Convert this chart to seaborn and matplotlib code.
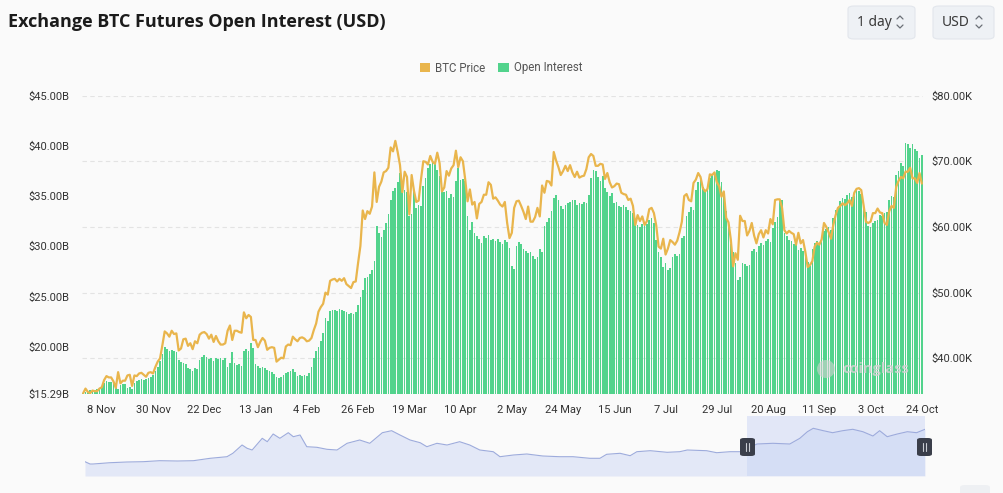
import numpy as np
import pandas as pd
import matplotlib
matplotlib.use("Agg")
import matplotlib.pyplot as plt
import seaborn as sns
from matplotlib.patches import FancyBboxPatch, Patch, Ellipse
from matplotlib.lines import Line2D

# ---------------- data (daily, 31 Oct 2023 .. 25 Oct 2024) ----------------
oi_oct_nov = [15.45, 15.55, 15.5, 15.7, 15.6, 15.75, 15.8, 15.9, 16.1, 16.4, 16.6, 16.5, 16.5, 16.4,
              16.0, 15.8, 16.2, 16.3, 16.3, 15.9, 16.0, 15.8, 16.4, 16.6, 16.7, 16.8, 16.7, 16.8,
              16.9, 17.0, 17.2]
oi_dec = [17.6, 18.0, 18.6, 19.3, 20.0, 19.8, 19.6, 19.7, 19.6, 19.5, 18.7, 18.5, 18.4, 18.3, 17.9,
          17.8, 17.6, 17.9, 17.8, 18.7, 19.0, 19.2, 19.0, 18.8, 18.9, 18.6, 18.9, 18.8, 18.9, 18.7, 18.9]
oi_jan = [18.0, 18.4, 19.5, 18.4, 18.2, 18.3, 18.1, 19.6, 19.8, 19.6, 20.4, 19.9, 18.3, 18.1, 17.9,
          18.0, 17.9, 17.7, 17.6, 17.5, 17.3, 17.0, 16.9, 17.0, 17.2, 17.4, 17.5, 17.6, 17.8, 17.5, 17.1]
oi_feb = [17.2, 17.1, 17.2, 17.1, 17.4, 18.0, 18.9, 19.6, 20.0, 20.6, 21.4, 22.9, 22.6, 23.6, 23.7,
          23.7, 23.6, 23.8, 23.7, 23.6, 23.5, 23.3, 23.4, 23.3, 23.5, 24.2, 25.0, 25.7, 26.9]
oi_mar = [27.0, 27.3, 27.6, 28.5, 32.0, 31.3, 30.9, 31.6, 32.3, 33.2, 34.6, 35.5, 35.8, 36.4, 37.3,
          36.0, 35.6, 35.4, 33.0, 33.2, 35.6, 33.8, 34.1, 34.0, 36.0, 36.8, 37.8, 38.2, 38.5, 38.3, 37.6]
oi_apr = [37.0, 35.6, 35.4, 35.5, 34.8, 35.2, 34.9, 36.5, 37.8, 36.6, 36.7, 36.5, 33.0, 31.6, 32.4,
          31.3, 31.0, 30.7, 30.3, 31.0, 30.8, 31.1, 30.6, 30.7, 30.5, 30.7, 30.4, 30.2, 30.6, 30.4]
oi_may = [29.8, 28.0, 27.7, 30.0, 30.4, 30.2, 29.7, 29.5, 29.3, 29.4, 29.0, 28.7, 28.9, 29.7, 29.4,
          32.0, 32.4, 32.8, 33.5, 34.8, 35.1, 34.6, 34.0, 33.7, 34.1, 34.3, 34.4, 34.6, 34.6, 34.1, 34.3]
oi_jun = [34.2, 34.4, 34.3, 35.1, 36.8, 37.6, 37.5, 36.9, 36.5, 37.0, 35.8, 35.4, 35.0, 35.3, 34.3,
          34.4, 34.0, 33.9, 34.1, 33.9, 33.6, 33.5, 33.3, 32.3, 32.1, 31.9, 32.2, 32.0, 32.2, 32.6]
oi_jul = [32.8, 32.3, 30.6, 29.4, 28.9, 27.9, 28.3, 27.6, 27.8, 28.9, 29.2, 29.0, 29.2, 30.8, 31.0,
          33.0, 33.4, 33.9, 33.6, 35.6, 36.4, 36.6, 35.9, 35.6, 35.8, 36.8, 37.1, 37.3, 37.6, 37.5, 36.4]
oi_aug = [35.4, 33.5, 32.3, 30.2, 29.4, 28.3, 26.7, 27.0, 28.3, 28.2, 28.0, 28.1, 29.5, 29.7, 29.4,
          30.0, 30.3, 30.1, 30.5, 30.7, 30.4, 31.8, 32.4, 32.9, 34.5, 34.6, 31.3, 31.0, 30.6, 30.5, 30.2]
oi_sep = [30.3, 29.6, 29.8, 29.5, 29.2, 28.4, 28.0, 29.7, 30.3, 30.5, 30.3, 30.8, 31.5, 31.7, 31.9,
          31.6, 32.8, 33.6, 33.8, 34.5, 34.8, 34.7, 35.1, 35.3, 34.9, 35.0, 35.6, 35.5, 35.2, 34.0]
oi_oct = [33.4, 32.0, 31.9, 32.3, 32.5, 32.6, 33.1, 33.0, 33.3, 33.4, 34.6, 35.0, 34.9, 37.1, 37.5,
          38.3, 38.0, 40.3, 40.2, 39.8, 40.2, 39.7, 39.5, 38.8, 39.1]

px_oct_nov = [34.7, 35.4, 34.9, 34.7, 35.1, 35.0, 35.0, 35.4, 35.6, 36.7, 37.3, 37.1, 37.1, 36.5,
              35.5, 37.9, 36.2, 36.6, 36.6, 37.4, 37.5, 35.8, 37.4, 37.3, 37.7, 37.8, 37.5, 37.2,
              37.8, 37.9, 37.7]
px_dec = [38.7, 39.5, 40.0, 42.0, 44.1, 43.8, 43.3, 44.2, 43.7, 43.8, 41.2, 41.5, 42.9, 43.0, 41.9,
          42.3, 41.4, 42.6, 42.3, 43.6, 43.9, 44.0, 43.7, 43.0, 43.6, 42.5, 43.4, 42.6, 42.1, 42.1, 42.3]
px_jan = [44.2, 45.0, 42.8, 44.2, 44.2, 44.0, 43.9, 47.0, 46.1, 46.6, 46.3, 42.8, 42.8, 41.7, 42.5,
          43.1, 42.7, 41.3, 41.6, 41.7, 41.6, 39.5, 39.8, 40.1, 40.0, 41.8, 42.1, 42.0, 43.3, 42.9, 42.6]
px_feb = [43.1, 43.2, 43.0, 42.6, 42.7, 43.1, 44.3, 45.3, 47.1, 47.8, 48.3, 50.0, 49.7, 51.8, 52.0,
          52.1, 51.7, 52.1, 51.8, 52.2, 51.3, 51.0, 50.7, 51.6, 51.7, 54.5, 57.1, 62.5, 61.2]
px_mar = [62.4, 62.0, 63.1, 68.3, 63.8, 66.1, 66.9, 68.3, 68.5, 69.0, 72.1, 71.5, 73.1, 71.4, 69.4,
          65.3, 68.4, 67.6, 61.9, 67.9, 65.5, 63.8, 64.0, 67.2, 70.0, 69.9, 69.5, 70.8, 69.9, 69.6, 71.3]
px_apr = [69.7, 65.4, 66.0, 68.5, 67.8, 68.9, 69.4, 71.6, 69.1, 70.6, 70.0, 67.2, 63.9, 65.7, 63.4,
          63.8, 61.3, 63.5, 63.8, 64.9, 64.9, 66.8, 66.4, 64.3, 64.5, 64.0, 63.4, 63.1, 63.8, 60.6]
px_may = [58.3, 59.1, 62.9, 63.9, 64.0, 63.2, 62.3, 61.2, 63.1, 60.8, 60.8, 61.5, 62.9, 61.6, 66.3,
          65.2, 67.0, 66.9, 66.3, 71.4, 70.1, 69.1, 67.9, 68.5, 69.3, 68.5, 69.4, 68.3, 67.6, 68.4, 67.5]
px_jun = [67.7, 67.8, 68.8, 70.6, 71.1, 70.8, 69.3, 69.3, 69.6, 69.5, 67.3, 68.2, 66.8, 66.0, 66.2,
          66.6, 66.5, 65.2, 65.0, 64.9, 64.1, 64.3, 63.2, 60.3, 61.8, 60.9, 61.6, 60.3, 60.9, 62.7]
px_jul = [62.9, 62.1, 60.2, 57.0, 56.7, 58.2, 55.8, 56.7, 58.0, 57.7, 57.3, 57.9, 59.2, 60.8, 64.7,
          65.0, 64.1, 63.9, 66.7, 67.2, 68.2, 67.6, 65.9, 65.4, 65.8, 68.0, 67.9, 68.3, 66.8, 66.2, 64.6]
px_aug = [65.4, 61.4, 60.7, 58.1, 54.0, 56.0, 55.0, 61.7, 60.9, 60.9, 58.7, 59.4, 60.6, 58.7, 57.5,
          58.9, 59.5, 58.4, 59.5, 59.0, 61.2, 60.4, 64.1, 64.2, 64.2, 62.9, 59.5, 59.0, 59.4, 59.1, 58.9]
px_sep = [57.3, 59.1, 57.5, 58.0, 56.2, 53.9, 54.2, 54.8, 57.0, 57.6, 57.3, 58.1, 60.6, 60.0, 59.2,
          58.2, 60.3, 61.8, 62.9, 63.2, 63.6, 63.3, 63.6, 64.1, 63.2, 65.2, 65.8, 65.9, 65.6, 63.3]
px_oct = [60.8, 60.6, 60.8, 62.1, 62.1, 62.8, 62.2, 62.1, 60.6, 60.3, 62.4, 63.2, 62.9, 66.1, 67.0,
          67.6, 67.4, 68.4, 68.4, 69.0, 67.4, 67.4, 66.7, 68.2, 66.6]

open_interest_b = (oi_oct_nov + oi_dec + oi_jan + oi_feb + oi_mar + oi_apr + oi_may + oi_jun
                   + oi_jul + oi_aug + oi_sep + oi_oct)
btc_price_k = (px_oct_nov + px_dec + px_jan + px_feb + px_mar + px_apr + px_may + px_jun
               + px_jul + px_aug + px_sep + px_oct)

x_tick_labels = ["8 Nov", "30 Nov", "22 Dec", "13 Jan", "4 Feb", "26 Feb", "19 Mar", "10 Apr",
                 "2 May", "24 May", "15 Jun", "7 Jul", "29 Jul", "20 Aug", "11 Sep", "3 Oct", "24 Oct"]
first_label_day = 8
label_step = 22

left_ticks = [15.29, 20, 25, 30, 35, 40, 45]
left_tick_labels = ["$15.29B", "$20.00B", "$25.00B", "$30.00B", "$35.00B", "$40.00B", "$45.00B"]
right_ticks = [40, 50, 60, 70, 80]
right_tick_labels = ["$40.00K", "$50.00K", "$60.00K", "$70.00K", "$80.00K"]

# navigator (overview) series: relative position 0..1, level in px of a 60px strip
nav_t = [0.0, 0.006, 0.0095, 0.030, 0.050, 0.069, 0.089, 0.110, 0.129, 0.149, 0.169, 0.176, 0.187,
         0.193, 0.199, 0.211, 0.217, 0.224, 0.232, 0.242, 0.248, 0.256, 0.264, 0.276, 0.288, 0.300,
         0.312, 0.327, 0.339, 0.354, 0.365, 0.375, 0.387, 0.399, 0.407, 0.419, 0.431, 0.446, 0.458,
         0.470, 0.486, 0.494, 0.510, 0.526, 0.545, 0.565, 0.581, 0.601, 0.613, 0.621, 0.637, 0.649,
         0.657, 0.673, 0.693, 0.708, 0.717, 0.740, 0.752, 0.768, 0.780, 0.800, 0.819, 0.839, 0.851,
         0.860, 0.867, 0.879, 0.890, 0.902, 0.914, 0.926, 0.938, 0.946, 0.955, 0.967, 0.979, 0.990, 1.0]
nav_level = [14.3, 12.0, 12.0, 13.3, 14.0, 14.3, 15.3, 15.0, 15.3, 17.7, 19.3, 22.7, 31.0,
             27.7, 26.0, 37.7, 34.3, 42.0, 37.7, 43.3, 39.3, 41.0, 29.3, 28.7, 26.7, 26.0,
             32.7, 36.0, 32.7, 43.3, 45.3, 41.0, 36.0, 33.3, 29.3, 32.7, 31.0, 34.3, 31.0,
             26.0, 24.3, 19.3, 21.0, 22.0, 20.0, 19.3, 19.3, 17.7, 17.7, 21.7, 22.7, 20.3,
             24.3, 25.3, 23.7, 24.3, 26.0, 25.3, 23.3, 24.3, 24.3, 32.0, 32.7, 32.0, 37.7,
             44.3, 47.7, 45.3, 43.3, 45.3, 46.7, 44.3, 40.0, 45.3, 39.3, 42.0, 44.3, 43.3, 46.7]
nav_selection = (0.788, 1.0)

# ---------------- styling ----------------
BG = "#FAFAFA"
GREEN = "#52D38C"
GOLD = "#E9B54C"
TXT = "#333333"

sns.set_theme(style="white")
plt.rcParams["font.family"] = ["Roboto", "DejaVu Sans"]

W, H = 1004, 493
fig = plt.figure(figsize=(W / 100, H / 100), dpi=100, facecolor=BG)


def fx(p):
    return p / W


def fy(p):
    return 1 - p / H


n = len(open_interest_b)
df = pd.DataFrame({"day": np.arange(n), "oi": open_interest_b, "price": btc_price_k})

rect = [fx(82), fy(394.3), fx(923) - fx(82), fy(95.5) - fy(394.3)]
axg = fig.add_axes(rect, zorder=0)
ax = fig.add_axes(rect, zorder=1)
axl = fig.add_axes(rect, zorder=2)

# grid / right axis
axg.set_facecolor(BG)
axg.set_xlim(-0.5, n - 0.5)
axg.set_ylim(34.53, 80)
axg.yaxis.tick_right()
axg.set_yticks(right_ticks)
axg.set_yticklabels(right_tick_labels, fontsize=8, color=TXT)
axg.set_xticks([])
axg.tick_params(axis="y", length=0, pad=6)
axg.grid(axis="y", color="#E3E3E3", linewidth=0.8, linestyle=(0, (4, 3)))
for s in axg.spines.values():
    s.set_visible(False)

# bars
ax.patch.set_visible(False)
sns.barplot(data=df, x="day", y="oi", native_scale=True, color=GREEN, saturation=1,
            width=0.72, errorbar=None, linewidth=0, edgecolor="none", ax=ax)
ax.set_xlim(-0.5, n - 0.5)
ax.set_ylim(15.29, 45)
ax.set_yticks(left_ticks)
ax.set_yticklabels(left_tick_labels, fontsize=8, color=TXT)
ax.set_xticks([first_label_day + label_step * k for k in range(len(x_tick_labels))])
ax.set_xticklabels(x_tick_labels, fontsize=8, color=TXT)
ax.tick_params(axis="both", length=0)
ax.tick_params(axis="y", pad=9)
ax.tick_params(axis="x", pad=8)
ax.set_xlabel("")
ax.set_ylabel("")
ax.grid(False)
for s in ax.spines.values():
    s.set_visible(False)

# price line
axl.patch.set_visible(False)
sns.lineplot(data=df, x="day", y="price", color=GOLD, linewidth=1.6, ax=axl)
axl.set_xlim(-0.5, n - 0.5)
axl.set_ylim(34.53, 80)
axl.set_xticks([])
axl.set_yticks([])
axl.set_xlabel("")
axl.set_ylabel("")
axl.grid(False)
for s in axl.spines.values():
    s.set_visible(False)

# title
fig.text(fx(8), fy(22), "Exchange BTC Futures Open Interest (USD)", fontsize=13.0,
         fontweight="bold", color="#1B1B1B", ha="left", va="center",
         family=["Open Sans", "DejaVu Sans"])

# legend
handles = [Patch(facecolor=GOLD, edgecolor="none", label="BTC Price"),
           Patch(facecolor=GREEN, edgecolor="none", label="Open Interest")]
leg = fig.legend(handles=handles, loc="center", bbox_to_anchor=(fx(501), fy(68)), ncol=2,
                 frameon=False, fontsize=8.3, handlelength=0.9, handleheight=0.9,
                 handletextpad=0.45, columnspacing=1.1, borderaxespad=0)
for t in leg.get_texts():
    t.set_color("#555555")

# top-right selectors
def selector(x0, x1, label, chev_x):
    box = FancyBboxPatch((fx(x0), fy(39)), fx(x1) - fx(x0), fy(6) - fy(39),
                         boxstyle="round,pad=0,rounding_size=0.006", transform=fig.transFigure,
                         facecolor="#EEF1F5", edgecolor="#E2E6EC", linewidth=0.8)
    fig.patches.append(box)
    fig.text(fx(x0 + 9), fy(22.5), label, fontsize=10, color="#3A3A3A", ha="left", va="center",
             family=["Noto Sans", "DejaVu Sans"])
    for ys in ((19, 16, 19), (25, 28, 25)):
        fig.lines.append(Line2D([fx(chev_x - 3), fx(chev_x), fx(chev_x + 3)],
                                [fy(ys[0]), fy(ys[1]), fy(ys[2])],
                                transform=fig.transFigure, color="#6B6F76", linewidth=0.9))


selector(848, 915, "1 day", 900)
selector(933, 994, "USD", 979)

# watermark
fig.text(fx(842), fy(369), "coinglass", fontsize=10.5, fontweight="bold", color="#D2D2D2",
         alpha=0.85, ha="left", va="center", family=["Open Sans", "DejaVu Sans"], zorder=5)
fig.patches.append(Ellipse((fx(826), fy(369)), fx(18), 18 / H, transform=fig.transFigure,
                           facecolor="#D2D2D2", alpha=0.6, edgecolor="none", zorder=5))

# navigator
axn = fig.add_axes([fx(85), fy(476), fx(925) - fx(85), fy(416) - fy(476)])
axn.set_facecolor(BG)
axn.patch.set_visible(False)
axn.fill_between(nav_t, nav_level, 0, color="#E3E8F7", linewidth=0)
sns.lineplot(x=nav_t, y=nav_level, color="#9DABDC", linewidth=0.8, ax=axn)
axn.axvspan(nav_selection[0], nav_selection[1], color="#C6D2F4", alpha=0.45, linewidth=0)
axn.set_xlim(0, 1)
axn.set_ylim(0, 60)
axn.set_xticks([])
axn.set_yticks([])
axn.grid(False)
for s in axn.spines.values():
    s.set_visible(False)

for hx in (747.5, 924.5):
    hb = FancyBboxPatch((fx(hx - 7.5), fy(456)), fx(15), fy(438) - fy(456),
                        boxstyle="round,pad=0,rounding_size=0.004", transform=fig.transFigure,
                        facecolor="#3A3E4A", edgecolor="none", zorder=6)
    fig.patches.append(hb)
    for dx in (-1.5, 1.5):
        fig.lines.append(Line2D([fx(hx + dx), fx(hx + dx)], [fy(443), fy(451)],
                                transform=fig.transFigure, color="#C9CCD3", linewidth=0.8,
                                zorder=7))

# partially visible corner button
fig.patches.append(FancyBboxPatch((fx(960), fy(500)), fx(30), fy(485) - fy(500),
                                  boxstyle="round,pad=0,rounding_size=0.005",
                                  transform=fig.transFigure, facecolor="#EEF0F3",
                                  edgecolor="none"))

fig.savefig("out.png", dpi=100, facecolor=BG)
